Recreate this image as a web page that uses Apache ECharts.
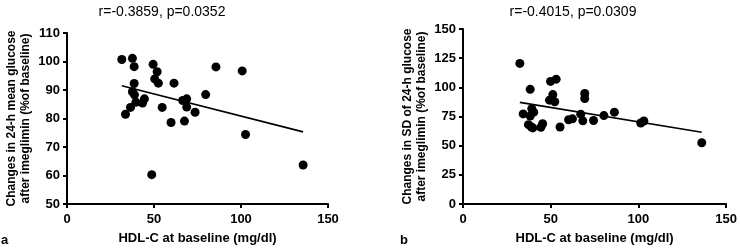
<!DOCTYPE html>
<html>
<head>
<meta charset="utf-8">
<script src="https://cdn.jsdelivr.net/npm/echarts@6/dist/echarts.min.js"></script>
<style>
  html, body { margin: 0; padding: 0; background: #fff; }
  #chart { width: 740px; height: 250px; }
</style>
</head>
<body>
<div id="chart"></div>
<script>
// 面板 a：24-h 平均血糖变化 vs HDL-C
const meanPoints = [
  [31.5, 100.7], [33.6, 81.5], [36.5, 83.9], [37.6, 101.1], [37.6, 89.4],
  [38.6, 98.2], [38.6, 92.3], [38.8, 88.3], [39.6, 85.7], [43.4, 85.4],
  [44.5, 86.9], [48.7, 60.3], [49.5, 99.0], [50.4, 93.9], [51.8, 96.4],
  [52.5, 92.4], [54.7, 83.9], [59.8, 78.6], [61.5, 92.4], [66.5, 86.3],
  [67.5, 79.1], [68.8, 86.9], [68.8, 84.0], [73.6, 82.2], [79.7, 88.4],
  [85.6, 98.1], [100.7, 96.7], [102.6, 74.4], [135.7, 63.7]
]
const meanFit = [[31.5, 91.5], [135.7, 75.3]]

// 面板 b：24-h 血糖 SD 变化 vs HDL-C
const sdPoints = [
  [32.4, 120.5], [34.3, 77.2], [37.3, 68.0], [38.3, 98.3], [38.3, 75.4],
  [39.0, 66.0], [39.2, 81.6], [39.8, 65.2], [40.3, 78.7], [44.4, 65.7],
  [45.4, 68.8], [49.3, 89.0], [49.9, 105.1], [51.2, 93.8], [52.3, 87.6],
  [53.1, 107.0], [55.3, 66.0], [60.2, 72.2], [62.4, 73.0], [67.1, 77.0],
  [68.3, 71.3], [69.4, 94.7], [69.4, 90.4], [74.4, 71.6], [80.3, 75.8],
  [86.3, 78.7], [101.3, 69.4], [103.1, 71.1], [136.1, 52.5]
]
const sdFit = [[32.4, 87.1], [136.1, 61.5]]

const titles = ['r=-0.3859, p=0.0352', 'r=-0.4015, p=0.0309']
const yNames = [
  'Changes in 24-h mean glucose\nafter imeglimin (%of baseline)',
  'Changes in SD of 24-h glucose\nafter imeglimin (%of baseline)'
]
const xName = 'HDL-C at baseline (mg/dl)'

const font = "'Liberation Sans', Arial, sans-serif"
const myChart = echarts.init(document.getElementById('chart'))

const axisLine = { lineStyle: { color: '#000', width: 2 } }
const axisTick = { length: 4, lineStyle: { color: '#000', width: 2 } }
const labelStyle = { color: '#000', fontSize: 13, fontWeight: 'bold', fontFamily: font }

const makeX = (idx) => ({
  type: 'value',
  gridIndex: idx,
  min: 0,
  max: 150,
  interval: 50,
  splitLine: { show: false },
  axisLine: axisLine,
  axisTick: axisTick,
  axisLabel: Object.assign({ margin: 9 }, labelStyle),
  name: xName,
  nameLocation: 'middle',
  nameGap: 28,
  nameTextStyle: { color: '#000', fontSize: 13, fontWeight: 'bold', fontFamily: font }
})

const makeY = (idx, min, max, interval) => ({
  type: 'value',
  gridIndex: idx,
  min: min,
  max: max,
  interval: interval,
  splitLine: { show: false },
  axisLine: Object.assign({ show: true }, axisLine),
  axisTick: Object.assign({ show: true }, axisTick),
  axisLabel: Object.assign({ margin: 7 }, labelStyle),
  name: yNames[idx],
  nameLocation: 'middle',
  nameRotate: 90,
  nameGap: 34,
  nameTextStyle: { color: '#000', fontSize: 12, fontWeight: 'bold', fontFamily: font, lineHeight: 14 }
})

const dots = (idx, data) => ({
  type: 'scatter',
  xAxisIndex: idx,
  yAxisIndex: idx,
  data: data,
  symbol: 'circle',
  symbolSize: 9,
  itemStyle: { color: '#000', opacity: 1 },
  silent: true
})

const fit = (idx, data) => ({
  type: 'line',
  xAxisIndex: idx,
  yAxisIndex: idx,
  data: data,
  symbol: 'none',
  lineStyle: { color: '#000', width: 1.6 },
  silent: true
})

const titleStyle = { color: '#000', fontSize: 14, fontWeight: 'normal', fontFamily: font }

const options = {
  animation: false,
  title: [
    { text: titles[0], left: 157, top: 0, textAlign: 'center', textStyle: titleStyle },
    { text: titles[1], left: 568, top: 0, textAlign: 'center', textStyle: titleStyle }
  ],
  grid: [
    { left: 67, top: 33, width: 261, height: 175 },
    { left: 463, top: 29, width: 266, height: 178 }
  ],
  xAxis: [makeX(0), makeX(1)],
  yAxis: [makeY(0, 50, 110, 10), makeY(1, 0, 150, 25)],
  series: [
    dots(0, meanPoints), fit(0, meanFit),
    dots(1, sdPoints), fit(1, sdFit)
  ],
  graphic: [
    { type: 'text', left: 1, top: 234, style: { text: 'a', fill: '#000', font: 'bold 13px ' + font } },
    { type: 'text', left: 400, top: 234, style: { text: 'b', fill: '#000', font: 'bold 13px ' + font } }
  ]
}
myChart.setOption(options)
</script>
</body>
</html>
